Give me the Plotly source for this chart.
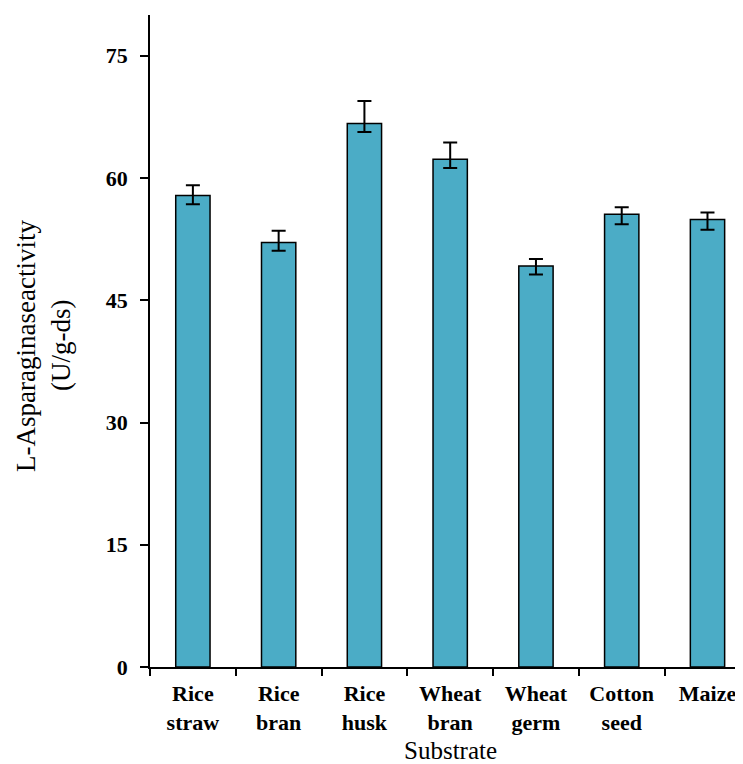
import plotly.graph_objects as go

categories = ["Rice<br>straw", "Rice<br>bran", "Rice<br>husk", "Wheat<br>bran",
              "Wheat<br>germ", "Cotton<br>seed", "Maize"]
activity = [57.86, 52.1, 66.7, 62.29, 49.2, 55.54, 54.92]
err_plus = [1.26, 1.44, 2.74, 2.08, 0.86, 0.86, 0.86]
err_minus = [1.07, 1.02, 1.07, 1.07, 1.03, 1.2, 1.27]
y_ticks = [0, 15, 30, 45, 60, 75]

serif = "Liberation Serif"

# page body adds an 8px offset; plot area targeted at x 150..743, y 15..667 on screen
L, T, PH = 142, 7, 652
B = 764 - (T + PH)

fig = go.Figure()
fig.add_trace(go.Bar(
    x=categories, y=activity, width=0.4,
    marker=dict(color="#4BACC6", line=dict(color="black", width=1.5)),
    error_y=dict(type="data", symmetric=False, array=err_plus, arrayminus=err_minus,
                 color="black", thickness=2, width=7),
))

fig.update_layout(
    width=743, height=764,
    margin=dict(l=L, r=8, t=T, b=B),
    plot_bgcolor="white", paper_bgcolor="white",
    showlegend=False,
    xaxis=dict(
        type="category", range=[-0.5, 6.414], tickson="boundaries",
        ticks="outside", ticklen=7, tickwidth=1.5, tickcolor="black",
        showline=True, linecolor="black", linewidth=1.5, showgrid=False,
        tickfont=dict(family=serif, size=22, color="black", weight="bold"),
        ticklabelstandoff=6,
    ),
    yaxis=dict(
        range=[0, 80], tickvals=y_ticks,
        ticks="outside", ticklen=8, tickwidth=1.5, tickcolor="black",
        showline=True, linecolor="black", linewidth=1.5, showgrid=False, zeroline=False,
        tickfont=dict(family=serif, size=22, color="black", weight="bold"),
        ticklabelstandoff=8,
    ),
    shapes=[dict(type="line", xref="paper", yref="paper", x0=-0.015, x1=0, y0=0, y1=0,
                 line=dict(color="black", width=1.5))],
    annotations=[
        dict(text="Substrate", xref="x", yref="paper", x=3.0, y=-0.1515, yanchor="bottom",
             showarrow=False, font=dict(family=serif, size=25, color="black")),
        dict(text="L-Asparaginaseactivity", xref="paper", yref="paper",
             x=(26 - 150) / 593, y=(667 - 346) / 652, textangle=-90,
             xanchor="center", yanchor="middle", showarrow=False,
             font=dict(family=serif, size=27, color="black")),
        dict(text="(U/g-ds)", xref="paper", yref="paper",
             x=(61 - 150) / 593, y=(667 - 346) / 652, textangle=-90,
             xanchor="center", yanchor="middle", showarrow=False,
             font=dict(family=serif, size=27, color="black")),
    ],
)

fig.write_html("out.html")
